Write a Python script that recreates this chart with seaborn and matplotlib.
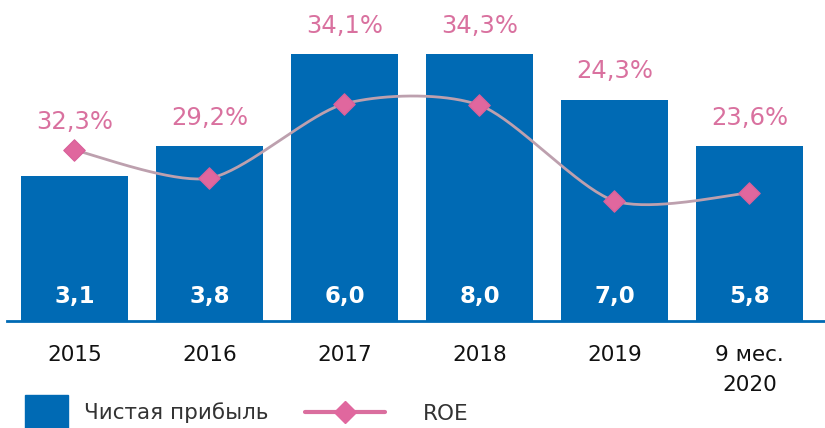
import numpy as np
import pandas as pd
import matplotlib
matplotlib.use("Agg")
import matplotlib.pyplot as plt
from matplotlib.patches import Rectangle
from matplotlib.lines import Line2D
import seaborn as sns

# ---- data ----
categories = ["2015", "2016", "2017", "2018", "2019", "9 мес.\n2020"]
profit_labels = ["3,1", "3,8", "6,0", "8,0", "7,0", "5,8"]
# drawn bar heights (chart units)
bar_height = [3.26, 3.93, 6.0, 6.0, 4.97, 3.93]
roe_labels = ["32,3%", "29,2%", "34,1%", "34,3%", "24,3%", "23,6%"]
# drawn ROE marker levels (same chart units)
roe_level = [3.84, 3.21, 4.88, 4.85, 2.70, 2.88]

BLUE = "#006AB4"
PINK = "#E0679E"
PINK_TXT = "#D9719F"
LINE_C = "#BDA0AE"

sns.set_style("white")
plt.rcParams["font.family"] = ["DejaVu Sans"]

fig = plt.figure(figsize=(8.25, 4.28), dpi=100)
ax = fig.add_axes([7 / 825, 107 / 428, 818 / 825, 321 / 428])

df = pd.DataFrame({"cat": categories, "h": bar_height})
sns.barplot(data=df, x="cat", y="h", color=BLUE, saturation=1, width=0.79,
            ax=ax, edgecolor="none")

xs = np.arange(len(categories), dtype=float)
ys = np.array(roe_level)

# Excel-like smooth line (cubic Bezier through points)
def smooth(x, y, n=40, k=1 / 7.5):
    px, py = [], []
    m = len(x)
    for i in range(m - 1):
        x0, y0 = x[max(i - 1, 0)], y[max(i - 1, 0)]
        x1, y1 = x[i], y[i]
        x2, y2 = x[i + 1], y[i + 1]
        x3, y3 = x[min(i + 2, m - 1)], y[min(i + 2, m - 1)]
        c1x, c1y = x1 + (x2 - x0) * k, y1 + (y2 - y0) * k
        c2x, c2y = x2 - (x3 - x1) * k, y2 - (y3 - y1) * k
        t = np.linspace(0, 1, n)
        bx = (1 - t) ** 3 * x1 + 3 * (1 - t) ** 2 * t * c1x + 3 * (1 - t) * t ** 2 * c2x + t ** 3 * x2
        by = (1 - t) ** 3 * y1 + 3 * (1 - t) ** 2 * t * c1y + 3 * (1 - t) * t ** 2 * c2y + t ** 3 * y2
        px.extend(bx); py.extend(by)
    return np.array(px), np.array(py)

sx, sy = smooth(xs, ys)
ax.plot(sx, sy, color=LINE_C, lw=2, zorder=3, solid_capstyle="round")
sns.scatterplot(x=xs, y=ys, marker="D", s=120, color=PINK, edgecolor="#D8609A",
                linewidth=0.8, ax=ax, zorder=4)

for i in range(len(categories)):
    ax.text(xs[i], 0.56, profit_labels[i], color="white", fontsize=16.5,
            fontweight="bold", ha="center", va="center", zorder=5)
    top = max(bar_height[i], roe_level[i])
    ax.annotate(roe_labels[i], (xs[i], top), xytext=(0, 20.5),
                textcoords="offset points", ha="center", va="center",
                color=PINK_TXT, fontsize=17.5)

ax.set_xlim(-0.5, 5.56)
ax.set_ylim(0, 321 / 44.5)
ax.set_xlabel("")
ax.set_ylabel("")
ax.set_yticks([])
ax.set_xticks(xs)
ax.set_xticklabels(categories, fontsize=15.5, color="#111111", linespacing=1.62)
ax.tick_params(axis="x", length=0, pad=17)
for s in ["top", "left", "right"]:
    ax.spines[s].set_visible(False)
ax.spines["bottom"].set_color(BLUE)
ax.spines["bottom"].set_linewidth(2)

# ---- legend ----
W, H = 825, 428
def fx(p): return p / W
def fy(p): return 1 - p / H
fig.patches.append(Rectangle((fx(25), fy(428)), 43 / W, 33 / H, transform=fig.transFigure,
                             color=BLUE, figure=fig))
fig.text(fx(84), fy(413), "Чистая прибыль", fontsize=15.5, color="#333333",
         ha="left", va="center")
fig.lines.append(Line2D([fx(305), fx(385)], [fy(412), fy(412)], transform=fig.transFigure,
                        color="#DA6E9E", lw=3, figure=fig))
fig.lines.append(Line2D([fx(345)], [fy(412)], transform=fig.transFigure, marker="D",
                        markersize=11, color=PINK, lw=0, figure=fig))
fig.text(fx(423), fy(414), "ROE", fontsize=15.5, color="#333333", ha="left", va="center")

fig.savefig("out.png", dpi=100)
